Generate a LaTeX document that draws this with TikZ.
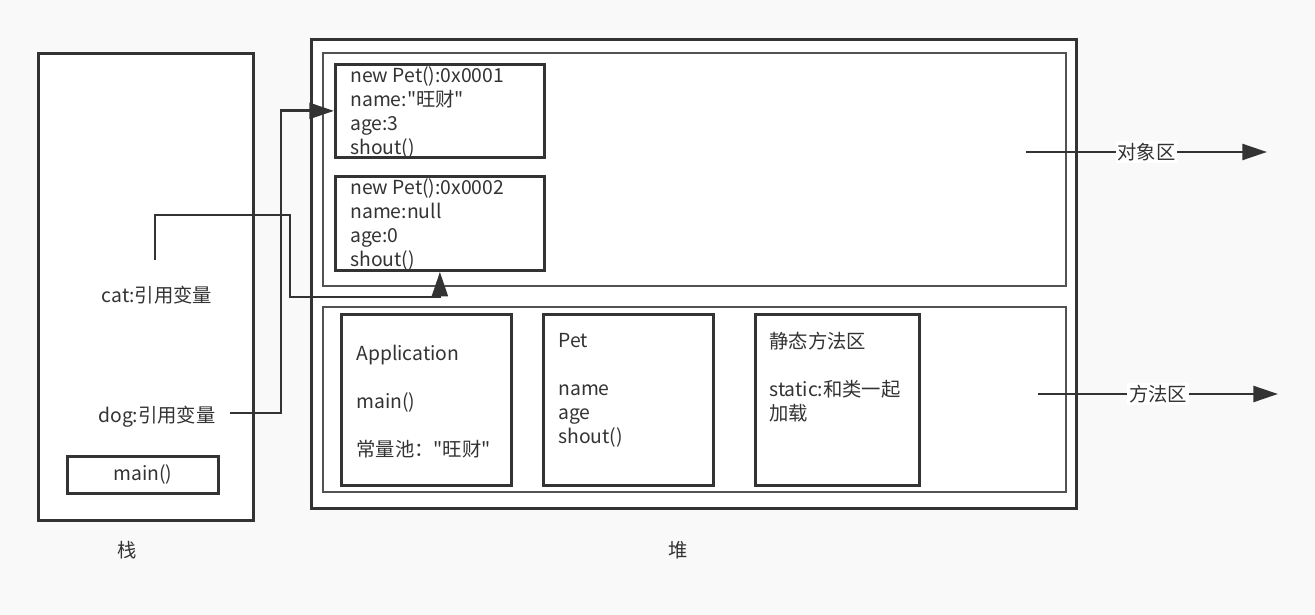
\documentclass[tikz,border=0pt]{standalone}
\usepackage{fontspec}
\setmainfont{Noto Sans CJK SC}[Ligatures=TeXOff]
\usetikzlibrary{arrows.meta,positioning}
\definecolor{DiagramInk}{HTML}{333333}
\definecolor{DiagramPaper}{HTML}{F9F9F9}

\begin{document}
\begin{tikzpicture}[x=0.02cm,y=-0.02cm,line join=miter,
  box/.style={draw=DiagramInk,line width=1.6pt,fill=white,rectangle,inner sep=0pt,anchor=north west},
  area/.style={draw=DiagramInk!85,line width=1.4pt,fill=white,rectangle,inner sep=0pt,anchor=north west},
  txt/.style={text=DiagramInk,inner sep=0pt,font=\fontsize{11}{13.6}\selectfont,align=left},
  link/.style={draw=DiagramInk,line width=1.6pt},
  ref/.style={link,-{Triangle[length=14pt,width=9pt]}}]
  \fill[DiagramPaper] (0,0) rectangle (1315,615);
  % stack
  \node[box,minimum width=4.30cm,minimum height=9.34cm] (stack) at (37,52) {};
  \node[box,txt,minimum width=3.02cm,minimum height=0.74cm,anchor=north west] (mainframe) at (66,455) {main()};
  \node[txt] (cat) at (157,295) {cat:引用变量};
  \node[txt] (dog) at (157,417) {dog:引用变量};
  \node[txt] (stacklabel) at (127,550) {栈};
  % heap
  \node[box,minimum width=15.30cm,minimum height=9.38cm] (heap) at (310,38) {};
  \node[txt] (heaplabel) at (678,550) {堆};
  \node[area,minimum width=14.86cm,minimum height=4.66cm] (objarea) at (322,52) {};
  \node[area,minimum width=14.86cm,minimum height=3.70cm] (metharea) at (322,306) {};
  \node[box,minimum width=4.18cm,minimum height=1.86cm] (obj1) at (334,63) {};
  \node[box,minimum width=4.18cm,minimum height=1.88cm] (obj2) at (334,175) {};
  % base = last line
  \node[txt,anchor=base west] (obj1text) at (350,154) {new Pet():0x0001\\name:"旺财"\\age:3\\shout()};
  \node[txt,anchor=base west] (obj2text) at (350,266) {new Pet():0x0002\\name:null\\age:0\\shout()};
  \node[box,minimum width=3.40cm,minimum height=3.42cm] (appbox) at (340,313) {};
  \node[box,minimum width=3.40cm,minimum height=3.42cm] (petbox) at (542,313) {};
  \node[box,minimum width=3.28cm,minimum height=3.42cm] (staticbox) at (754,313) {};
  \node[txt,anchor=base west] (apptext) at (356,456) {Application\\[13.6pt]main()\\[13.6pt]常量池："旺财"};
  \node[txt,anchor=base west] (pettext) at (558,443) {Pet\\[13.6pt]name\\age\\shout()};
  \node[txt,anchor=base west] (statictext) at (769,420) {静态方法区\\[13.6pt]static:和类一起\\加载};
  % references
  \coordinate (catout) at (155,260);
  \coordinate (dogout) at (230,413);
  \draw[ref] (catout) -- ++(0,-45) -| ++(135,82) -| (obj2.south);
  \draw[ref] (dogout) -- ++(51,0) |- (obj1.west);
  % areas
  \coordinate (objfrom) at (1026,152);\coordinate (objto) at (1267,152);
  \coordinate (methfrom) at (1038,394);\coordinate (methto) at (1278,394);
  \draw[ref] (objfrom) -- node[txt,fill=white,inner sep=1pt] (objlabel) {对象区} (objto);
  \draw[ref] (methfrom) -- node[txt,fill=white,inner sep=1pt] (methlabel) {方法区} (methto);
\end{tikzpicture}
\end{document}
